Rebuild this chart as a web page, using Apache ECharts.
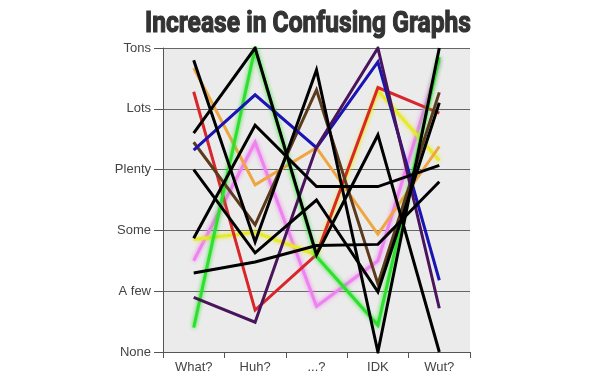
<!DOCTYPE html>
<html>
<head>
<meta charset="utf-8">
<script src="https://cdn.jsdelivr.net/npm/echarts@6/dist/echarts.min.js"></script>
<style>
  html, body { margin: 0; padding: 0; background: #fff; }
  #chart { width: 600px; height: 391px; }
</style>
</head>
<body>
<div id="chart"></div>
<script>
// categories and level names
const categories = ["What?", "Huh?", "...?", "IDK", "Wut?"];
const levelNames = ["None", "A few", "Some", "Plenty", "Lots", "Tons"];
const titleText = "Increase in Confusing Graphs";

// one value per category, 0 = None ... 5 = Tons
const redLine = [4.28, 0.69, 1.6, 4.35, 3.93];
const orangeLine = [4.67, 2.75, 3.36, 1.94, 3.38];
const yellowLine = [1.85, 1.97, 1.6, 4.3, 3.15];
const greenLine = [0.4, 5, 1.57, 0.44, 4.85];
const blueLine = [3.32, 4.23, 3.36, 4.77, 1.18];
const purpleLine = [0.9, 0.49, 3.37, 5, 0.72];
const pinkLine = [1.5, 3.45, 0.75, 1.5, 4.8];
const brownLine = [3.45, 2.09, 4.31, 1.12, 4.27];
const blackA = [4.8, 1.81, 4.64, 0, 5];
const blackB = [1.87, 3.73, 2.72, 2.72, 3.07];
const blackC = [3.0, 1.63, 2.5, 0.99, 4.1];
const blackD = [3.6, 5, 1.6, 3.57, 0];
const blackE = [1.3, 1.48, 1.75, 1.77, 2.8];

const lines = [
  { data: pinkLine, color: "#ee82ee", glow: true },
  { data: yellowLine, color: "#e6ea2a", glow: true },
  { data: orangeLine, color: "#f0a640" },
  { data: redLine, color: "#d8262a" },
  { data: greenLine, color: "#2ee02e", glow: true },
  { data: brownLine, color: "#5b3b1c" },
  { data: blueLine, color: "#1a14b4" },
  { data: purpleLine, color: "#4a145c" },
  { data: blackE, color: "#000" },
  { data: blackC, color: "#000" },
  { data: blackB, color: "#000" },
  { data: blackA, color: "#000" },
  { data: blackD, color: "#000" },
];

// squeeze the title into a condensed look
const titleFont = "bold 30px Roboto, 'DejaVu Sans', sans-serif";
const ctx = document.createElement("canvas").getContext("2d");
ctx.font = titleFont;
const titleScale = 326 / ctx.measureText(titleText).width;

const chart = echarts.init(document.getElementById("chart"));

chart.setOption({
  animation: false,
  graphic: [
    {
      type: "text",
      x: 308,
      y: 9,
      scaleX: titleScale,
      style: {
        text: titleText,
        font: titleFont,
        fill: "#333",
        stroke: "#333",
        lineWidth: 1.2,
        textAlign: "center",
        textVerticalAlign: "top",
      },
    },
  ],
  grid: {
    left: 163,
    right: 130,
    top: 48,
    bottom: 39,
    show: true,
    backgroundColor: "#ebebeb",
    borderWidth: 0,
  },
  xAxis: {
    type: "category",
    data: categories,
    boundaryGap: true,
    axisLine: { lineStyle: { color: "#555", width: 1 } },
    axisTick: { show: true, length: 6, lineStyle: { color: "#555" } },
    axisLabel: {
      color: "#444",
      fontFamily: "Liberation Sans",
      fontSize: 13,
      margin: 9,
    },
  },
  yAxis: {
    type: "value",
    min: 0,
    max: 5,
    interval: 1,
    axisLine: { show: true, lineStyle: { color: "#555", width: 1 } },
    axisTick: { show: true, length: 9, lineStyle: { color: "#555" } },
    axisLabel: {
      color: "#444",
      fontFamily: "Liberation Sans",
      fontSize: 13,
      margin: 12,
      formatter: (v) => levelNames[v],
    },
    splitLine: { lineStyle: { color: "#666", width: 1 } },
  },
  series: lines.map((l) => ({
    type: "line",
    data: l.data,
    symbol: "none",
    silent: true,
    lineStyle: {
      color: l.color,
      width: 3,
      join: "miter",
      shadowColor: l.glow ? l.color : "transparent",
      shadowBlur: l.glow ? 4 : 0,
    },
  })),
});
</script>
</body>
</html>
